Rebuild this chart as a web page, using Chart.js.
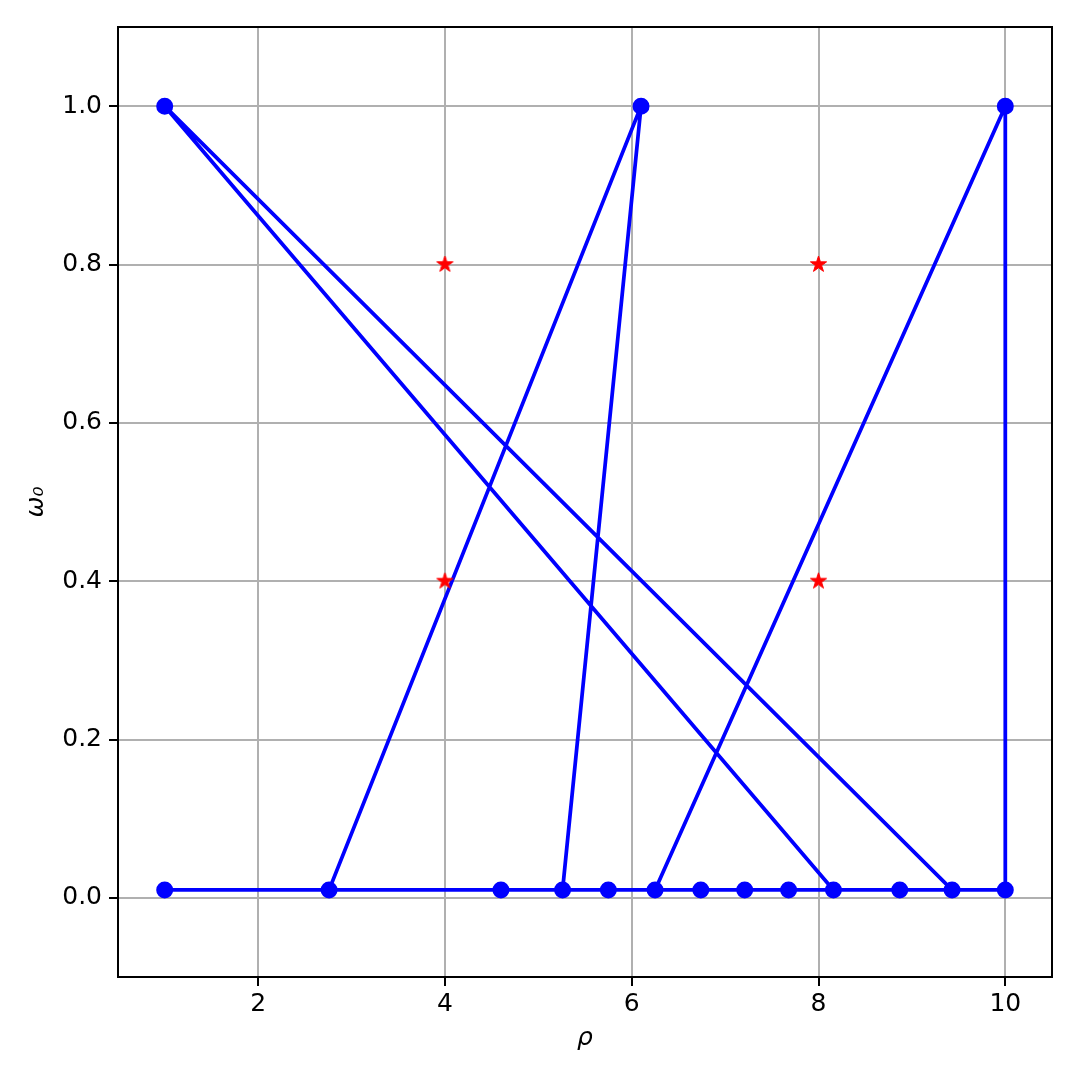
<!DOCTYPE html>
<html>
<head>
<meta charset="utf-8">
<script src="https://cdn.jsdelivr.net/npm/chart.js@4.4.1/dist/chart.umd.min.js"></script>
<style>
  html, body { margin: 0; padding: 0; background: #fff; }
  #wrap { width: 1080px; height: 1080px; }
</style>
</head>
<body>
<div id="wrap"><canvas id="chart" width="1080" height="1080"></canvas></div>
<script>
// path of the search, in the order it was visited
var pathRho = [8.87, 1.0, 2.76, 6.1, 5.26, 6.25, 10.0, 10.0, 7.68, 9.43, 1.0, 8.16, 4.6, 5.75, 6.74, 7.21];
var pathOmega = [0.01, 0.01, 0.01, 1.0, 0.01, 0.01, 1.0, 0.01, 0.01, 0.01, 1.0, 0.01, 0.01, 0.01, 0.01, 0.01];

// red star markers
var starRho = [4, 4, 8, 8];
var starOmega = [0.8, 0.4, 0.8, 0.4];

// tick labels
var xTicks = [2, 4, 6, 8, 10];
var yTicks = [0.0, 0.2, 0.4, 0.6, 0.8, 1.0];

var FONT = "'DejaVu Sans', sans-serif";

// build a small filled star image to use as point style
function makeStar(r, color) {
  var size = Math.ceil(r * 2 + 2);
  var c = document.createElement("canvas");
  c.width = size;
  c.height = size;
  var g = c.getContext("2d");
  g.translate(size / 2, size / 2);
  g.beginPath();
  for (var i = 0; i < 10; i++) {
    var rr = i % 2 ? r * 0.381966 : r;
    var a = -Math.PI / 2 + (i * Math.PI) / 5;
    g.lineTo(rr * Math.cos(a), rr * Math.sin(a));
  }
  g.closePath();
  g.fillStyle = color;
  g.fill();
  g.strokeStyle = color;
  g.lineWidth = 1;
  g.stroke();
  return c;
}

function toPoints(xs, ys) {
  return xs.map(function (x, i) {
    return { x: x, y: ys[i] };
  });
}

// draws the frame on all four sides like matplotlib spines
var framePlugin = {
  id: "frame",
  afterDraw: function (chart) {
    var a = chart.chartArea;
    var ctx = chart.ctx;
    ctx.save();
    ctx.strokeStyle = "#000";
    ctx.lineWidth = 2;
    ctx.strokeRect(a.left, a.top, a.right - a.left, a.bottom - a.top);
    ctx.restore();
  },
};

var ctx = document.getElementById("chart").getContext("2d");

new Chart(ctx, {
  type: "scatter",
  data: {
    datasets: [
      {
        label: "stars",
        data: toPoints(starRho, starOmega),
        pointStyle: makeStar(8.5, "#ff0000"),
        pointRadius: 8,
        showLine: false,
        order: 0,
      },
      {
        label: "path",
        data: toPoints(pathRho, pathOmega),
        showLine: true,
        borderColor: "#0000ff",
        borderWidth: 3.75,
        borderJoinStyle: "round",
        pointRadius: 7.5,
        pointBorderWidth: 2,
        pointBackgroundColor: "#0000ff",
        pointBorderColor: "#0000ff",
        tension: 0,
        order: 1,
      },
    ],
  },
  options: {
    responsive: false,
    animation: false,
    layout: {
      padding: { left: 0, right: 28, top: 27, bottom: 0 },
    },
    plugins: {
      legend: { display: false },
      tooltip: { enabled: false },
    },
    scales: {
      x: {
        type: "linear",
        min: 0.5,
        max: 10.5,
        afterBuildTicks: function (scale) {
          scale.ticks = xTicks.map(function (v) {
            return { value: v };
          });
        },
        afterFit: function (scale) {
          scale.height = 103;
        },
        grid: {
          color: "#b0b0b0",
          lineWidth: 2,
          tickColor: "#000",
          tickLength: 9,
          tickWidth: 2,
        },
        border: { display: true, color: "#000", width: 2 },
        ticks: {
          color: "#000",
          padding: 3,
          maxRotation: 0,
          font: { family: FONT, size: 25 },
          callback: function (v) {
            return String(v);
          },
        },
        title: {
          display: true,
          text: "ρ",
          color: "#000",
          padding: { top: 0, bottom: 27 },
          font: { family: FONT, size: 25, style: "italic" },
        },
      },
      y: {
        type: "linear",
        min: -0.1,
        max: 1.1,
        afterBuildTicks: function (scale) {
          scale.ticks = yTicks.map(function (v) {
            return { value: v };
          });
        },
        afterFit: function (scale) {
          scale.width = 118;
        },
        grid: {
          color: "#b0b0b0",
          lineWidth: 2,
          tickColor: "#000",
          tickLength: 9,
          tickWidth: 2,
        },
        border: { display: true, color: "#000", width: 2 },
        ticks: {
          color: "#000",
          padding: 7,
          font: { family: FONT, size: 25 },
          callback: function (v) {
            return Number(v).toFixed(1);
          },
        },
        title: {
          display: true,
          text: "ω₀",
          color: "#000",
          padding: { top: 21, bottom: 0 },
          font: { family: FONT, size: 25, style: "italic" },
        },
      },
    },
  },
  plugins: [framePlugin],
});
</script>
</body>
</html>
